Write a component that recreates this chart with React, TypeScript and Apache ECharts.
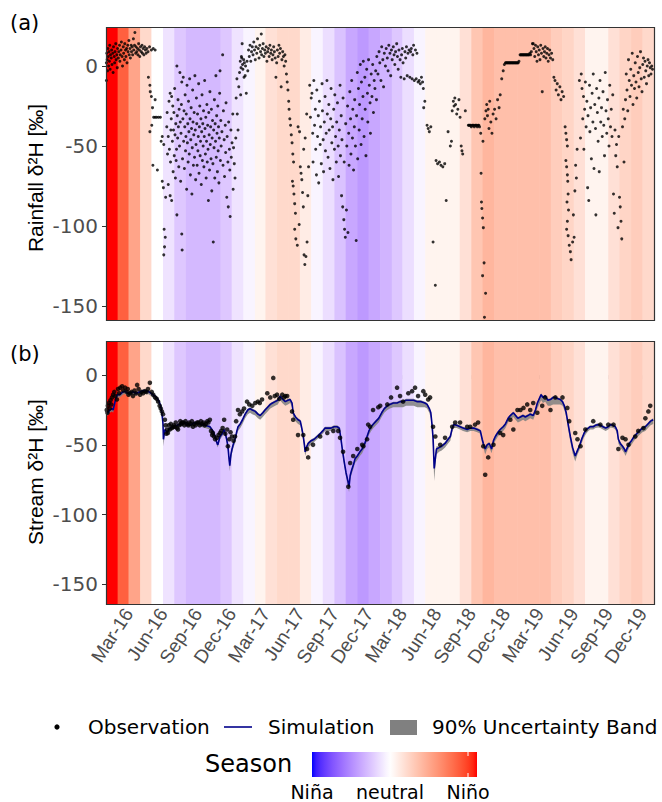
import React, { useEffect, useRef } from "react";
import * as echarts from "echarts";

// ---------------- DATA ----------------
const START = Date.UTC(2016, 0, 1);
const END = Date.UTC(2020, 0, 1);
const DAY = 86400000;

// Monthly ENSO index (Jan 2016 .. Dec 2019) used for background colour bands
const ensoMonthly = [
  2.5, 1.95, 1.17, 0.5, 0.0, -0.3, -0.6, -0.75, -0.75, -0.75, -0.6, -0.3,
  -0.12, 0.15, 0.4, 0.5, 0.5, 0.25, -0.12, -0.35, -0.65, -0.95, -1.1, -0.95,
  -0.8, -0.6, -0.35, -0.12, 0.15, 0.15, 0.15, 0.4, 0.75, 0.95, 0.83, 0.83,
  0.83, 0.83, 0.83, 0.65, 0.55, 0.4, 0.15, 0.15, 0.4, 0.55, 0.65, 0.5,
];

const tickDates = [
  "2016-03-01", "2016-06-01", "2016-09-01", "2016-12-01",
  "2017-03-01", "2017-06-01", "2017-09-01", "2017-12-01",
  "2018-03-01", "2018-06-01", "2018-09-01", "2018-12-01",
  "2019-03-01", "2019-06-01", "2019-09-01", "2019-12-01",
];
const tickLabels = [
  "Mar-16", "Jun-16", "Sep-16", "Dec-16", "Mar-17", "Jun-17", "Sep-17", "Dec-17",
  "Mar-18", "Jun-18", "Sep-18", "Dec-18", "Mar-19", "Jun-19", "Sep-19", "Dec-19",
];
const yTicks = [-150, -100, -50, 0];

// Rainfall δ2H: [days since 2016-01-01, value]
const rainfall = [
  [1,-9],[1,2],[2,8],[3,4],[4,-3],[5,11],[6,6],[7,0],[8,9],[9,3],[10,13],[11,-2],[12,7],[14,5],[15,10],[16,1],[18,8],[19,-4],[20,12],[22,6],[23,2],[24,9],[26,14],[27,4],[29,7],[30,-1],[31,11],[33,5],[34,9],[36,13],[37,3],[38,7],[40,10],[41,15],[43,6],[44,0],[46,12],[47,8],[49,4],[50,14],[52,10],[53,6],[55,11],[56,2],[58,13],[59,9],[61,16],[62,7],[64,11],[65,5],[67,13],[68,9],[70,12],[71,7],[73,17],[74,10],[76,13],[77,21],[79,8],[80,12],[82,9],[84,11],[85,7],[87,14],[89,10],[90,6],[92,12],[94,9],[96,13],[97,8],[99,11],[101,7],[103,12],[105,10],[107,8],[109,11],[112,9],[116,12],[121,10],[126,11],[131,10],
  [113,-7],[117,-12],[118,-16],[121,-19],[124,-26],[127,-32],[131,-32],[135,-32],[140,-32],[145,-32],[122,-37],[117,-41],[125,-62],[137,-65],[131,-21],[150,-44],[154,-49],[150,-72],[153,-76],[159,-82],[155,-102],[158,-107],[156,-113],[154,-118],[147,-47],
  [162,-38],[163,-29],[164,-55],[166,-44],[166,-74],[168,-22],[169,-52],[171,-17],[171,-81],[172,-60],[173,-40],[174,-33],[175,-84],[175,-19],[177,-47],[178,-25],[179,-66],[180,-40],[181,-29],[182,-56],[183,-14],[184,-43],[185,-70],[186,-36],[187,-59],[188,-52],[189,0],[189,-93],[190,-31],[191,-45],[192,-21],[193,-38],[194,-63],[195,-27],[196,-50],[197,-4],[198,-35],[199,-72],[200,-42],[201,-24],[202,-10],[202,-105],[203,-115],[204,-58],[205,-33],[206,-7],[207,-47],[208,-28],[209,-64],[210,-38],[211,-18],[212,-53],[213,-44],[214,-30],[215,-77],[216,-12],[217,-48],[218,-36],[219,-60],[220,-22],[221,-41],[222,-55],[223,-8],[224,-33],[225,-68],[226,-46],[227,-26],[228,-39],[229,-80],[230,-51],[231,-15],[232,-35],[233,-62],[234,-43],[235,-29],[236,-57],[237,-6],[238,-40],[239,-71],[240,-49],[241,-20],[242,-36],[243,-62],[244,-30],[245,-53],[246,-44],[247,-11],[248,-67],[249,-38],[250,-25],[251,-56],[252,-47],[253,-33],[254,-74],[255,-41],[256,-18],[257,-59],[258,-36],[259,-50],[260,-28],[261,-63],[262,-44],[263,-9],[264,-39],[265,-55],[266,-32],[267,-70],[268,-47],[269,-24],[270,-60],[271,-37],[272,-52],[273,-84],[274,-29],[275,-43],[276,-65],[277,-16],[278,-49],[279,-38],[280,-58],[281,-27],[282,-78],[283,-45],[284,-34],[285,-61],[286,-110],[287,-40],[288,-51],[289,-21],[290,-70],[291,-36],[292,-47],[293,-6],[294,-57],[295,-31],[296,-42],[297,-66],[298,-25],[299,-53],[300,-38],[301,-73],[302,-45],[303,-17],[304,-3],[305,-59],[306,-34],[307,-50],[309,-41],[311,7],[312,-62],[313,-28],[315,-46],[316,-69],[318,-37],[319,-54],[320,-23],[322,-82],[323,-44],[325,-60],[326,-88],[327,-35],[329,-52],[330,-65],[331,-94],[333,-40],[334,-57],[336,-48],[338,-30],[339,-77],[340,-51],[342,-61],[344,-70],
  [346,-45],[347,-20],[349,-8],[350,-30],[352,-40],[354,-13],[356,-4],[358,3],[359,-18],[360,-1],[361,6],[362,5],[363,14],[364,1],[365,-2],[367,4],[368,-7],[369,2],[371,-6],[372,0],[374,-17],[376,3],[378,-3],
  [380,10],[382,6],[384,13],[386,3],[388,9],[390,12],[392,7],[394,15],[396,10],[398,4],[400,12],[402,8],[404,17],[406,11],[408,5],[410,13],[412,9],[414,20],[415,7],[417,11],[419,14],[421,6],[423,10],[425,8],[427,12],[429,3],[431,9],[433,11],[435,6],[437,13],[439,8],[441,10],[443,4],[445,7],[447,12],[449,9],[451,5],[453,-7],[455,2],[457,10],[459,6],[461,13],[463,8],[465,11],[467,-13],[469,4],[471,9],[473,6],[475,0],[477,7],[479,3],
  [481,-5],[483,-10],[485,-15],[487,-22],[488,-27],[490,-33],[492,-37],[494,-43],[496,-48],[498,-55],[500,-60],[497,-72],[499,-75],[501,-80],[503,-86],[505,-92],[503,-102],[506,-108],[510,-112],[515,-99],[518,-63],[520,-67],[522,-71],[524,-79],[526,-88],[528,-118],[530,-124],[533,-119],[536,-110],[538,-81],[540,-63],[527,-52],[531,-45],[535,-30],[512,-38],[516,-41],
  [543,-12],[545,-32],[547,-20],[549,-17],[551,-42],[552,-60],[554,-9],[556,-37],[558,-27],[559,-52],[561,-68],[562,-15],[564,-44],[566,-31],[567,-73],[569,-22],[571,-49],[572,-38],[574,-61],[576,-11],[577,-28],[579,-46],[580,-66],[582,-35],[584,-19],[585,-53],[587,-42],[589,-9],[590,-30],[592,-57],[594,-24],[595,-40],[597,-64],[599,-33],[600,-14],[602,-48],[604,-38],[605,-71],[607,-27],[609,-52],[610,-18],[612,-44],[614,-60],[615,-35],[617,-23],[619,-50],[620,-69],[622,-40],[624,-12],[625,-56],[627,-31],[628,-81],[629,-46],[631,-88],[632,-20],[634,-96],[635,-60],[636,-102],[638,-107],[639,-36],[641,-90],[642,-50],[644,-25],[645,-104],[647,-42],[648,-62],[650,-16],[652,-33],[653,-55],[655,-9],[657,-45],[658,-27],[660,-65],[662,-38],[663,-21],[665,-50],[667,-109],[668,-31],[670,-4],[671,-58],[673,-14],[675,-40],[676,-24],[678,1],[680,-49],[681,-10],[683,-33],[685,-19],[686,3],[688,-44],[690,-7],[691,-27],[693,-56],[695,-2],[697,-17],[698,-35],[700,4],[702,-12],[704,-23],[705,-42],[707,-5],[709,-19],[711,1],[713,-29],[715,-9],[717,-14],[719,-3],[721,-21],
  [722,6],[725,-5],[728,9],[730,2],[733,-9],[735,12],[738,4],[740,-13],[742,8],[745,0],[747,11],[750,5],[752,-3],[754,13],[757,8],[759,-6],[761,10],[763,4],[766,12],[768,7],[770,1],[772,9],[775,14],[777,6],[779,-2],[781,10],[784,4],[786,-7],[788,7],[790,11],[792,2],[795,-8],[797,9],[799,5],[801,12],[803,-6],[805,8],[808,10],[810,-7],[812,9],[814,11],[816,-8],[818,7],[820,13],[822,-9],[825,10],[827,-8],[829,8],[832,-10],[835,-9],[838,-11],[841,-7],[844,-10],[846,-14],
  [847,-26],[850,-22],[856,-37],[859,-39],[862,-41],[866,-38],[872,-110],[878,-137],[880,-59],[884,-61],[889,-60],[893,-62],[898,-63],[903,-61],[907,-84],[912,-41],[918,-50],[921,-47],[923,-28],[926,-22],[928,-25],[930,-20],[932,-24],[935,-30],[938,-27],[941,-21],[944,-32],[947,-50],[949,-53],[951,-55],[958,-28],[966,-37],[968,-37],[970,-37],[972,-37],[974,-38],[976,-37],[978,-37],[980,-37],[982,-38],[984,-37],[986,-37],[988,-37],[990,-38],[992,-37],[994,-37],[996,-38],[999,-42],[1000,-67],[1001,-85],[1002,-89],[1004,-95],[1006,-101],[1008,-123],[1004,-131],[1012,-142],[1009,-157],[1005,-47],[1010,-33],[1013,-28],[1015,-24],[1017,-31],[1019,-27],[1021,-39],[1023,-22],[1026,-35],[1029,-42],[1032,-30],[1036,-27],[1040,-33],[1044,-21],[1048,-26],[1051,-18],[1055,-8],[1059,-3],
  [1062,1],[1065,2],[1067,2],[1069,2],[1071,2],[1073,2],[1075,2],[1077,2],[1079,2],[1081,2],[1083,2],[1085,2],[1087,2],[1089,2],[1091,2],[1093,2],[1095,2],[1097,2],[1099,2],[1101,3],[1104,7],[1106,7],[1108,7],[1110,7],[1112,7],[1114,7],[1116,7],[1118,7],[1120,7],[1122,7],[1124,7],[1126,7],[1128,7],[1130,8],[1132,7],[1134,9],[1137,14],[1139,14],
  [1141,11],[1143,6],[1145,13],[1147,9],[1149,3],[1151,12],[1153,7],[1155,10],[1157,4],[1159,13],[1161,8],[1163,-16],[1165,11],[1167,6],[1169,9],[1171,12],[1173,5],[1175,8],[1177,11],[1179,3],[1181,7],[1183,10],[1185,5],[1188,8],[1191,4],[1194,-7],[1197,-9],[1200,-15],[1203,-11],[1206,-18],[1210,-13],[1213,-21],[1216,-16],[1220,-19],
  [1224,-38],[1226,-42],[1228,-46],[1230,-50],[1226,-59],[1228,-63],[1230,-68],[1231,-72],[1232,-80],[1229,-85],[1233,-90],[1230,-97],[1228,-102],[1232,-106],[1235,-112],[1238,-116],[1240,-121],[1244,-110],[1248,-107],[1246,-93],[1250,-78],[1254,-70],[1256,-52],[1252,-62],
  [1262,-9],[1265,-45],[1267,-5],[1269,-14],[1271,-33],[1273,-19],[1274,-52],[1276,-27],[1278,-10],[1280,-38],[1282,-22],[1284,-76],[1285,-31],[1287,-84],[1289,-12],[1290,-41],[1292,-26],[1294,-58],[1296,-17],[1298,-35],[1299,-5],[1301,-64],[1303,-24],[1305,-39],[1306,-93],[1308,-14],[1310,-29],[1312,-47],[1314,-20],[1315,-66],[1317,-9],[1319,-35],[1321,-26],[1323,-44],[1325,-16],[1327,-37],[1329,-56],[1331,-4],[1333,-28],[1335,-42],[1337,-21],[1339,-33],[1341,-50],[1343,-12],[1345,-38],[1347,-27],[1349,-44],[1351,-18],[1353,-80],[1355,-92],[1357,-40],[1359,-56],[1361,-49],[1363,-63],[1365,-101],[1367,-44],[1369,-82],[1371,-88],[1373,-97],[1375,-108],[1377,-38],[1379,-27],[1381,-60],[1383,-33],
  [1385,-21],[1387,-5],[1389,-15],[1391,-28],[1393,4],[1395,-9],[1397,-19],[1399,-2],[1401,-12],[1403,8],[1405,-24],[1407,-6],[1409,-14],[1411,2],[1413,-10],[1415,-20],[1417,6],[1419,-4],[1421,-13],[1423,-1],[1425,9],[1427,-8],[1429,-16],[1431,1],[1433,5],[1435,-7],[1437,3],[1439,-3],[1441,-11],[1443,0],[1445,4],[1447,-6],[1449,2],[1451,-1],[1453,-5],[1455,0],[1457,-2],
];

// Stream observations: [days since 2016-01-01, value]
const streamObs = [
  [2,-25],[4,-27],[5,-22],[8,-20],[10,-24],[12,-18],[14,-21],[16,-16],[19,-14],[22,-12],[25,-15],[29,-17.5],[32,-10],[35,-13],[38,-9],[43,-8],[46,-11],[51,-9],[55,-12],[58,-10],[60,-14],[64,-13],[68,-12],[72,-15],[76,-11],[80,-13],[83,-7],[87,-10],[91,-14],[95,-12],[99,-13],[104,-11.5],[108,-12],[112,-10],[117,-5.5],[122,-12],[126,-14],[131,-16],[135,-17],[139,-19],[143,-22],[146,-24],[149,-26],[152,-28],[157,-32],[159,-36],[161,-42],[163,-39],[165,-41.5],[168,-36],[170,-39],[173,-35],[176,-38],[179,-37],[181,-36],[184,-37],[186,-34],[189,-38],[192,-39],[195,-36],[198,-33],[200,-35],[203,-34],[206,-34],[209,-36],[212,-33],[216,-35],[219,-36],[222,-34],[225,-35],[229,-33],[232,-37],[235,-35],[239,-36],[243,-34],[246,-34],[250,-36],[253,-33],[256,-35],[260,-34],[263,-36],[266,-35],[270,-33],[273,-34],[277,-32],[280,-40],[283,-43],[285,-41.5],[288,-44],[291,-46],[296,-45],[300,-43],[304,-41.5],[307,-40],[311,-38],[315,-32],[318,-42],[323,-39],[325,-51],[329,-46],[332,-41],[336,-44],[340,-47],[344,-44],[347,-33],[352,-25],[357,-28],[363,-26],[368,-24],[376,-19],[382,-21],[390,-22],[398,-20],[405,-19],[410,-20],[416,-17.5],[430,-13],[438,-16],[446,-2],[450,-15],[456,-14],[462,-17],[470,-14],[475,-16],[478,-15],[483,-15],[496,-26],[499,-32],[512,-43],[526,-43],[536,-53],[539,-59],[552,-50],[571,-44],[590,-41.5],[606,-40],[619,-40],[624,-45],[632,-55],[646,-80],[651,-63],[659,-58],[670,-53],[683,-50],[686,-51],[696,-46],[699,-35.5],[704,-37],[712,-25],[726,-23],[731,-22],[750,-21],[760,-16],[776,-9],[784,-15],[792,-19],[806,-13],[816,-11.5],[824,-9],[832,-15],[846,-11.5],[851,-14],[859,-17.5],[864,-16],[872,-37],[878,-44],[891,-50],[904,-45],[923,-37],[931,-34],[944,-34],[963,-37],[971,-37],[984,-35.5],[992,-34],[1006,-51],[1011,-71.5],[1019,-59],[1033,-50],[1051,-41.5],[1059,-43],[1078,-32],[1086,-39],[1097,-25],[1105,-25],[1113,-23.5],[1123,-21],[1131,-25],[1139,-20],[1150,-27],[1163,-22],[1171,-16],[1185,-25],[1198,-16],[1217,-16],[1230,-23.5],[1235,-33],[1251,-41.5],[1257,-46],[1265,-51],[1278,-39],[1299,-33],[1318,-35.5],[1339,-35.5],[1353,-35.5],[1366,-53],[1377,-45],[1385,-46],[1393,-50],[1411,-44],[1419,-40],[1433,-38],[1438,-31],[1446,-26],[1451,-22],
];

// Simulated stream δ2H: [days since 2016-01-01, value]
const simulation = [
  [0,-27],[5,-27],[10,-25],[16,-24],[19,-25],[25,-18],[30,-14],[37,-14],[45,-12],[51,-11.5],[58,-13],[64,-12.7],[72,-12],[80,-13],[91,-12],[100,-11],[110,-12],[112,-11.5],[120,-13],[131,-15],[140,-18],[146,-22],[149,-27],[152,-35],[153,-46],[157,-39],[163,-41],[171,-38],[180,-37],[190,-36],[200,-35],[211,-34],[224,-36],[237,-34],[251,-35],[264,-36],[277,-37],[285,-40],[291,-44],[295,-48],[298,-50],[304,-44],[310,-42],[315,-39],[321,-45],[325,-51],[328,-60],[330,-65],[333,-57],[336,-53],[341,-48],[344,-46],[349,-40],[352,-37],[358,-35],[364,-32],[371,-28],[378,-25],[384,-24],[390,-25],[398,-26],[405,-28],[411,-29],[418,-27],[424,-25],[431,-23],[438,-21],[444,-20],[451,-19],[458,-18],[464,-15],[470,-17],[478,-19],[485,-18],[491,-17.5],[496,-20],[499,-27],[505,-30],[512,-32],[518,-33],[522,-38],[526,-44],[529,-50],[531,-55],[534,-52],[539,-49],[547,-47],[555,-46],[563,-44],[571,-42],[578,-40],[584,-38],[592,-38],[600,-38],[608,-37],[616,-37],[622,-38],[626,-45],[630,-53],[635,-62],[640,-70],[645,-76],[648,-80],[651,-72],[655,-68],[660,-64],[664,-60],[670,-58],[677,-55],[683,-53],[690,-49],[696,-44],[701,-40],[707,-37],[713,-35],[720,-33],[727,-31],[735,-27],[742,-24],[750,-22],[757,-21],[766,-20],[776,-20],[784,-19],[792,-19],[800,-18],[810,-18],[820,-18],[830,-19],[840,-19],[850,-20],[856,-21],[862,-24],[866,-27],[869,-35],[872,-45],[875,-67],[878,-60],[881,-53],[888,-52],[895,-51],[904,-49],[912,-46],[918,-44],[923,-38],[927,-35.5],[935,-36],[944,-37],[952,-38],[963,-39],[971,-38],[980,-38],[990,-39],[998,-40],[1003,-46],[1006,-49],[1011,-53],[1016,-50],[1022,-49],[1028,-53],[1033,-47],[1038,-44],[1045,-41],[1051,-39],[1059,-37],[1065,-35],[1072,-31],[1078,-29],[1086,-27],[1092,-29],[1098,-31],[1105,-30],[1112,-29],[1118,-30],[1125,-29],[1131,-28],[1139,-29],[1145,-25],[1150,-20],[1155,-17],[1160,-14],[1165,-16],[1171,-15],[1178,-18],[1185,-17.5],[1192,-16],[1198,-16],[1205,-17],[1211,-17.5],[1217,-19],[1222,-22],[1227,-27],[1232,-35],[1238,-44],[1244,-52],[1251,-58],[1257,-54],[1262,-51],[1268,-46],[1274,-42],[1280,-39],[1286,-38],[1291,-37],[1299,-37],[1305,-36],[1312,-35.5],[1318,-36],[1325,-37],[1332,-38],[1339,-37],[1345,-35.5],[1352,-36],[1358,-37],[1363,-40],[1366,-46],[1371,-49],[1377,-51],[1382,-53],[1385,-55],[1390,-52],[1395,-49],[1401,-47],[1408,-44],[1415,-42],[1422,-40],[1430,-38],[1438,-37],[1445,-35],[1452,-33],[1459,-32],
];

// 90% uncertainty band: [days since 2016-01-01, lower, upper]
const uncertainty = [
  [0,-29,-26],[5,-29,-26],[10,-27,-24],[16,-26,-23],[19,-27,-24],[25,-20,-17],[30,-16,-13],[37,-16,-13],[45,-14,-11],[51,-13.5,-10.5],[58,-15,-12],[64,-14.5,-11.5],[72,-14,-11],[80,-15,-12],[91,-14,-11],[100,-13,-10],[110,-14,-11],[112,-13.5,-10.5],[120,-15,-12],[131,-17.5,-14],[140,-21,-17],[146,-25,-21],[149,-30,-26],[152,-39,-34],[153,-51,-44],[157,-42,-38],[163,-43,-40],[171,-40,-37],[180,-39,-36],[190,-38,-35],[200,-37,-34],[211,-36,-33],[224,-38,-35],[237,-36,-33],[251,-37,-34],[264,-38,-35],[277,-39,-36],[285,-42,-39],[291,-46,-43],[295,-50,-47],[298,-52,-49],[304,-46,-43],[310,-44,-41],[315,-41,-38],[321,-47,-44],[325,-54,-50],[328,-63,-58],[330,-69,-63],[333,-60,-55],[336,-56,-52],[341,-51,-47],[344,-49,-45],[349,-43,-39],[352,-40,-36],[358,-38,-34],[364,-35,-31],[371,-31,-27],[378,-28,-24],[384,-27,-23],[390,-28,-24],[398,-29,-25],[405,-31,-27],[411,-32,-28],[418,-30,-26],[424,-28,-24],[431,-26,-22],[438,-24,-20],[444,-23,-19],[451,-22,-18],[458,-21,-17],[464,-18,-14],[470,-20,-16],[478,-22,-18],[485,-21,-17],[491,-20,-16.5],[496,-23,-19],[499,-31,-26],[505,-33,-29],[512,-35,-31],[518,-36,-32],[522,-41,-37],[526,-47,-43],[529,-53,-49],[531,-58,-54],[534,-55,-51],[539,-52,-48],[547,-50,-46],[555,-48,-45],[563,-46,-43],[571,-44,-41],[578,-42,-39],[584,-40,-37],[592,-40,-37],[600,-40,-37],[608,-39,-36],[616,-39,-36],[622,-40,-37],[626,-48,-44],[630,-56,-52],[635,-65,-61],[640,-73,-69],[645,-80,-75],[648,-84,-78],[651,-75,-71],[655,-71,-67],[660,-67,-63],[664,-63,-59],[670,-61,-57],[677,-58,-54],[683,-56,-52],[690,-52,-48],[696,-47,-43],[701,-43,-39],[707,-40,-36],[713,-38,-34],[720,-36,-32],[727,-34,-30],[735,-30,-26],[742,-27,-23],[750,-25,-21],[757,-24,-20],[766,-23,-19],[776,-23,-19],[784,-23,-18],[792,-23,-18],[800,-22,-17],[810,-22,-17],[820,-22,-17],[830,-23,-18],[840,-23,-18],[850,-23,-19],[856,-24,-20],[862,-27,-23],[866,-31,-26],[869,-40,-33],[872,-52,-43],[875,-76,-62],[878,-66,-57],[881,-57,-51],[888,-55,-51],[895,-54,-50],[904,-52,-48],[912,-49,-45],[918,-47,-43],[923,-41,-37],[927,-38,-34.5],[935,-38,-35],[944,-39,-36],[952,-40,-37],[963,-41,-38],[971,-40,-37],[980,-40,-37],[990,-41,-38],[998,-42,-39],[1003,-49,-45],[1006,-52,-48],[1011,-57,-52],[1016,-53,-49],[1022,-52,-48],[1028,-56,-52],[1033,-50,-46],[1038,-47,-43],[1045,-44,-40],[1051,-42,-38],[1059,-40,-36],[1065,-38,-34],[1072,-34,-30],[1078,-32,-28],[1086,-30,-26],[1092,-32,-28],[1098,-34,-30],[1105,-33,-29],[1112,-32,-28],[1118,-33,-29],[1125,-32,-28],[1131,-31,-27],[1139,-32,-28],[1145,-28,-24],[1150,-24,-19],[1155,-21,-16],[1160,-18,-13],[1165,-20,-15],[1171,-19,-14],[1178,-22,-17],[1185,-22,-16.5],[1192,-21,-15],[1198,-21,-15],[1205,-21,-16],[1211,-21,-16.5],[1217,-22,-18],[1222,-25,-21],[1227,-30,-26],[1232,-39,-34],[1238,-48,-43],[1244,-56,-51],[1251,-62,-57],[1257,-57,-53],[1262,-54,-50],[1268,-49,-45],[1274,-45,-41],[1280,-42,-38],[1286,-40,-37],[1291,-39,-36],[1299,-39,-36],[1305,-38,-35],[1312,-37.5,-34.5],[1318,-38,-35],[1325,-39,-36],[1332,-40,-37],[1339,-39,-36],[1345,-37.5,-34.5],[1352,-38,-35],[1358,-39,-36],[1363,-43,-39],[1366,-49,-45],[1371,-52,-48],[1377,-54,-50],[1382,-56,-52],[1385,-58,-54],[1390,-55,-51],[1395,-52,-48],[1401,-50,-46],[1408,-47,-43],[1415,-45,-41],[1422,-43,-39],[1430,-41,-37],[1438,-40,-36],[1445,-38,-34],[1452,-36,-32],[1459,-35,-31],
];

// ---------------- COLOUR SCALE (Lab interpolation, blue - white - red) ----------------
const LOW = "#0000ff";
const MID = "#ffffff";
const HIGH = "#ff0000";
const LIMIT = 2.5;

function hexToRgb(h: string) {
  return [parseInt(h.slice(1, 3), 16), parseInt(h.slice(3, 5), 16), parseInt(h.slice(5, 7), 16)];
}
function rgbToLab(rgb: number[]) {
  const lin = rgb.map((c) => {
    const v = c / 255;
    return v <= 0.04045 ? v / 12.92 : Math.pow((v + 0.055) / 1.055, 2.4);
  });
  const X = (0.4124 * lin[0] + 0.3576 * lin[1] + 0.1805 * lin[2]) / 0.95047;
  const Y = 0.2126 * lin[0] + 0.7152 * lin[1] + 0.0722 * lin[2];
  const Z = (0.0193 * lin[0] + 0.1192 * lin[1] + 0.9505 * lin[2]) / 1.08883;
  const f = (t: number) => (t > 0.008856 ? Math.cbrt(t) : 7.787 * t + 16 / 116);
  const fx = f(X), fy = f(Y), fz = f(Z);
  return [116 * fy - 16, 500 * (fx - fy), 200 * (fy - fz)];
}
function labToHex(lab: number[]) {
  const fy = (lab[0] + 16) / 116;
  const fx = fy + lab[1] / 500;
  const fz = fy - lab[2] / 200;
  const inv = (t: number) => (t * t * t > 0.008856 ? t * t * t : (t - 16 / 116) / 7.787);
  const X = 0.95047 * inv(fx), Y = inv(fy), Z = 1.08883 * inv(fz);
  const r = 3.2406 * X - 1.5372 * Y - 0.4986 * Z;
  const g = -0.9689 * X + 1.8758 * Y + 0.0415 * Z;
  const b = 0.0557 * X - 0.204 * Y + 1.057 * Z;
  const gam = (c: number) => {
    const v = c <= 0.0031308 ? 12.92 * c : 1.055 * Math.pow(Math.max(c, 0), 1 / 2.4) - 0.055;
    return Math.round(Math.min(1, Math.max(0, v)) * 255);
  };
  return "#" + [gam(r), gam(g), gam(b)].map((v) => v.toString(16).padStart(2, "0")).join("");
}
const labLow = rgbToLab(hexToRgb(LOW));
const labMid = rgbToLab(hexToRgb(MID));
const labHigh = rgbToLab(hexToRgb(HIGH));
function mixLab(a: number[], b: number[], t: number) {
  return labToHex([a[0] + (b[0] - a[0]) * t, a[1] + (b[1] - a[1]) * t, a[2] + (b[2] - a[2]) * t]);
}
function ensoColor(v: number) {
  const t = Math.max(-1, Math.min(1, v / LIMIT));
  return t >= 0 ? mixLab(labMid, labHigh, t) : mixLab(labMid, labLow, -t);
}

// ---------------- CHART ----------------
const tDay = (d: number) => START + d * DAY;
const tickTimes = tickDates.map((s) => Date.parse(s + "T00:00:00Z"));
const months = ensoMonthly.map((v, i) => [Date.UTC(2016, i, 1), Date.UTC(2016, i + 1, 1), v]);

const SANS = "DejaVu Sans";
const ARIAL = "Liberation Sans";

function bgSeries(idx: number) {
  return {
    type: "custom",
    xAxisIndex: idx,
    yAxisIndex: idx,
    silent: true,
    z: 1,
    data: months,
    encode: { x: [0, 1], y: 2 },
    renderItem: (params: any, api: any) => {
      const x0 = api.coord([api.value(0), 0])[0];
      const x1 = api.coord([api.value(1), 0])[0];
      const cs = params.coordSys;
      return {
        type: "rect",
        shape: { x: x0, y: cs.y, width: x1 - x0 + 0.6, height: cs.height },
        style: { fill: ensoColor(api.value(2)) },
      };
    },
  };
}

function bandSeries() {
  const rows = uncertainty.map((p) => [tDay(p[0]), p[1], p[2]]);
  return {
    type: "custom",
    xAxisIndex: 1,
    yAxisIndex: 1,
    silent: true,
    z: 2,
    data: rows,
    encode: { x: 0, y: [1, 2] },
    renderItem: (params: any, api: any) => {
      if (params.dataIndex !== 0) return null;
      const lower = rows.map((r) => api.coord([r[0], r[1]]));
      const upper = rows.map((r) => api.coord([r[0], r[2]])).reverse();
      return {
        type: "polygon",
        shape: { points: lower.concat(upper) },
        style: { fill: "#808080", opacity: 0.85 },
      };
    },
  };
}

function yAxisDef(idx: number, min: number, max: number) {
  return {
    type: "value",
    gridIndex: idx,
    min,
    max,
    axisLine: { show: false },
    splitLine: { show: false },
    axisTick: { show: true, customValues: yTicks, length: 4, lineStyle: { color: "#333", width: 1 } },
    axisLabel: { customValues: yTicks, fontSize: 20, color: "#4d4d4d", margin: 8, fontFamily: SANS },
  };
}

const G1 = { left: 106, top: 27, width: 548, height: 293 };
const G2 = { left: 106, top: 341, width: 548, height: 263 };

function legendGradient() {
  const stops = [];
  const whiteAt = 0.473;
  for (let i = 0; i <= 40; i++) {
    const f = i / 40;
    const c = f < whiteAt ? mixLab(labMid, labLow, (whiteAt - f) / whiteAt) : mixLab(labMid, labHigh, (f - whiteAt) / (1 - whiteAt));
    stops.push({ offset: f, color: c });
  }
  return new echarts.graphic.LinearGradient(0, 0, 1, 0, stops);
}

function labelFor(v: number) {
  let best = 0;
  for (let i = 1; i < tickTimes.length; i++) {
    if (Math.abs(tickTimes[i] - v) < Math.abs(tickTimes[best] - v)) best = i;
  }
  return tickLabels[best];
}

function buildOption() {
  return {
    animation: false,
    textStyle: { fontFamily: SANS },
    grid: [G1, G2],
    xAxis: [
      { type: "value", gridIndex: 0, min: START, max: END, show: false, splitLine: { show: false } },
      {
        type: "value",
        gridIndex: 1,
        min: START,
        max: END,
        axisLine: { show: false },
        splitLine: { show: false },
        axisTick: { show: true, customValues: tickTimes, length: 4, lineStyle: { color: "#333", width: 1 } },
        axisLabel: {
          customValues: tickTimes,
          rotate: 57,
          fontSize: 19,
          fontFamily: ARIAL,
          color: "#4d4d4d",
          margin: 6,
          hideOverlap: false,
          formatter: (v: number) => labelFor(v),
        },
      },
    ],
    yAxis: [yAxisDef(0, -158.7, 24.4), yAxisDef(1, -164.2, 24.5)],
    series: [
      bgSeries(0),
      bgSeries(1),
      {
        type: "scatter",
        xAxisIndex: 0,
        yAxisIndex: 0,
        z: 5,
        symbolSize: 3,
        itemStyle: { color: "#000" },
        data: rainfall.map((p) => [tDay(p[0]), p[1]]),
      },
      bandSeries(),
      {
        type: "line",
        xAxisIndex: 1,
        yAxisIndex: 1,
        z: 3,
        symbol: "none",
        lineStyle: { color: "#00008b", width: 1.6 },
        data: simulation.map((p) => [tDay(p[0]), p[1]]),
      },
      {
        type: "scatter",
        xAxisIndex: 1,
        yAxisIndex: 1,
        z: 5,
        symbolSize: 4.6,
        itemStyle: { color: "#000" },
        data: streamObs.map((p) => [tDay(p[0]), p[1]]),
      },
    ],
    graphic: [
      {
        type: "rect",
        z: 100,
        silent: true,
        shape: { x: G1.left + 0.5, y: G1.top + 0.5, width: G1.width, height: G1.height },
        style: { fill: "none", stroke: "#333", lineWidth: 1.2 },
      },
      {
        type: "rect",
        z: 100,
        silent: true,
        shape: { x: G2.left + 0.5, y: G2.top + 0.5, width: G2.width, height: G2.height },
        style: { fill: "none", stroke: "#333", lineWidth: 1.2 },
      },
      { type: "text", left: 10, top: 12, style: { text: "(a)", fontSize: 21, fontFamily: SANS, fill: "#000" } },
      { type: "text", left: 10, top: 343, style: { text: "(b)", fontSize: 21, fontFamily: SANS, fill: "#000" } },
      {
        type: "text",
        x: 35,
        y: 178,
        rotation: Math.PI / 2,
        style: { text: "Rainfall δ²H [‰]", fontSize: 21, fontFamily: ARIAL, fill: "#000", align: "center", verticalAlign: "middle" },
      },
      {
        type: "text",
        x: 35,
        y: 472,
        rotation: Math.PI / 2,
        style: { text: "Stream δ²H [‰]", fontSize: 21, fontFamily: ARIAL, fill: "#000", align: "center", verticalAlign: "middle" },
      },
      { type: "circle", shape: { cx: 57, cy: 727, r: 2.6 }, style: { fill: "#000" } },
      { type: "text", x: 88, y: 727, style: { text: "Observation", fontSize: 20, fontFamily: SANS, fill: "#000", verticalAlign: "middle" } },
      { type: "line", shape: { x1: 224, y1: 727, x2: 252, y2: 727 }, style: { stroke: "#00008b", lineWidth: 1.6 } },
      { type: "text", x: 268, y: 727, style: { text: "Simulation", fontSize: 20, fontFamily: SANS, fill: "#000", verticalAlign: "middle" } },
      { type: "rect", shape: { x: 390, y: 720, width: 27, height: 15 }, style: { fill: "#808080" } },
      { type: "text", x: 432, y: 727, style: { text: "90% Uncertainty Band", fontSize: 20, fontFamily: SANS, fill: "#000", verticalAlign: "middle" } },
      { type: "text", x: 205, y: 764, style: { text: "Season", fontSize: 24, fontFamily: SANS, fill: "#000", verticalAlign: "middle" } },
      { type: "rect", shape: { x: 312, y: 752, width: 165, height: 25 }, style: { fill: legendGradient() } },
      { type: "line", shape: { x1: 468, y1: 752, x2: 468, y2: 756 }, style: { stroke: "#fff", lineWidth: 1 } },
      { type: "line", shape: { x1: 468, y1: 773, x2: 468, y2: 777 }, style: { stroke: "#fff", lineWidth: 1 } },
      { type: "text", x: 312, y: 792, style: { text: "Niña", fontSize: 19, fontFamily: SANS, fill: "#000", align: "center", verticalAlign: "middle" } },
      { type: "text", x: 390, y: 792, style: { text: "neutral", fontSize: 19, fontFamily: SANS, fill: "#000", align: "center", verticalAlign: "middle" } },
      { type: "text", x: 468, y: 792, style: { text: "Niño", fontSize: 19, fontFamily: SANS, fill: "#000", align: "center", verticalAlign: "middle" } },
    ],
  };
}

export default function App() {
  const ref = useRef<HTMLDivElement>(null);
  useEffect(() => {
    if (!ref.current) return;
    const chart = echarts.init(ref.current, null, { renderer: "svg" });
    chart.setOption(buildOption() as any);
    return () => {
      chart.dispose();
    };
  }, []);
  return <div ref={ref} style={{ position: "absolute", left: 0, top: 0, width: 662, height: 802 }} />;
}
